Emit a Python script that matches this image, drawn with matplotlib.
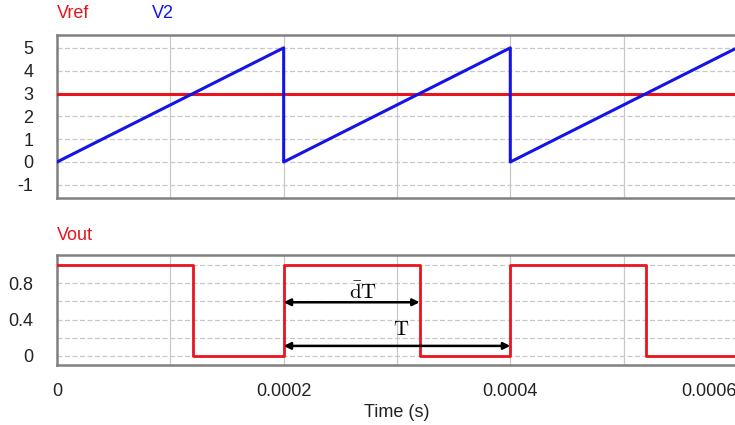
import matplotlib.pyplot as plt
import numpy as np

# sawtooth carrier V2 and constant reference
t_ramp = [0, 0.0002, 0.0002, 0.0004, 0.0004, 0.0006]
v2 = [0, 5, 0, 5, 0, 5]
t_ref = [0, 0.0006]
vref = [3, 3]

# comparator output (steps)
t_out = [0, 0.00012, 0.0002, 0.00032, 0.0004, 0.00052, 0.0006]
vout = [1, 0, 1, 0, 1, 0, 0]

xticks = [0, 0.0002, 0.0004, 0.0006]
xtick_labels = ['0', '0.0002', '0.0004', '0.0006']
top_ticks = [-1, 0, 1, 2, 3, 4, 5]
bot_ticks = [0, 0.4, 0.8]
bot_tick_labels = ['0', '0.4', '0.8']


def style(ax):
	for s in ax.spines.values():
		s.set_color('#808080')
		s.set_linewidth(1.8)
	ax.tick_params(length=0, labelsize=13, pad=17, labelcolor='#222222')
	for x in [0.0001, 0.0002, 0.0003, 0.0004, 0.0005]:
		ax.axvline(x, color='#c8c8c8', lw=0.9, zorder=0)


def main():
	plt.rcParams['font.family'] = ['Liberation Sans', 'DejaVu Sans']
	plt.rcParams['mathtext.fontset'] = 'cm'
	plt.rcParams['axes.unicode_minus'] = False
	fig = plt.figure(figsize=(7.35, 4.25), dpi=100)

	ax1 = fig.add_axes([0.0776, 0.534, 0.925, 0.384])
	ax1.plot(t_ref, vref, color='#e8141e', lw=2.2, zorder=3)
	ax1.plot(t_ramp, v2, color='#1414e6', lw=2.2, zorder=4)
	ax1.set_xlim(0, 0.0006)
	ax1.set_ylim(-1.58, 5.57)
	ax1.set_yticks(top_ticks)
	ax1.set_xticks([])
	for y in top_ticks:
		ax1.axhline(y, color='#c8c8c8', lw=0.9, ls=(0, (4, 2)), zorder=0)
	style(ax1)

	ax2 = fig.add_axes([0.0776, 0.1412, 0.925, 0.2588])
	ax2.step(t_out, vout, where='post', color='#e8141e', lw=2.0, zorder=3)
	ax2.set_xlim(0, 0.0006)
	ax2.set_ylim(-0.1, 1.11)
	ax2.set_yticks(bot_ticks)
	ax2.set_yticklabels(bot_tick_labels)
	ax2.set_xticks(xticks)
	ax2.set_xticklabels(xtick_labels)
	for y in [0, 0.2, 0.4, 0.6, 0.8, 1.0]:
		ax2.axhline(y, color='#c8c8c8', lw=0.9, ls=(0, (4, 2)), zorder=0)
	style(ax2)
	ax2.tick_params(axis='x', pad=13)
	ax2.get_xticklabels()[-1].set_ha('right')
	ax2.set_xlabel('Time (s)', fontsize=13, labelpad=3, color='#222222')

	# duty and period arrows
	ax2.annotate('', xy=(0.00032, 0.59), xytext=(0.0002, 0.59),
				 arrowprops=dict(arrowstyle='<|-|>', color='black', lw=1.8, shrinkA=0, shrinkB=0))
	ax2.annotate('', xy=(0.0004, 0.11), xytext=(0.0002, 0.11),
				 arrowprops=dict(arrowstyle='<|-|>', color='black', lw=1.8, shrinkA=0, shrinkB=0))
	ax2.text(0.00027, 0.70, r'$\bar{\mathrm{d}}\mathrm{T}$', fontsize=15, ha='center', va='center', zorder=5)
	ax2.text(0.000304, 0.285, r'$\mathrm{T}$', fontsize=15, ha='center', va='center', zorder=5)

	fig.text(57 / 735, 1 - 13 / 425, 'Vref', color='#e8141e', fontsize=13, va='center')
	fig.text(152 / 735, 1 - 13 / 425, 'V2', color='#1414e6', fontsize=13, va='center')
	fig.text(57 / 735, 1 - 235 / 425, 'Vout', color='#e8141e', fontsize=13, va='center')

	fig.savefig('out.png', dpi=100)


if __name__ == '__main__':
	main()
